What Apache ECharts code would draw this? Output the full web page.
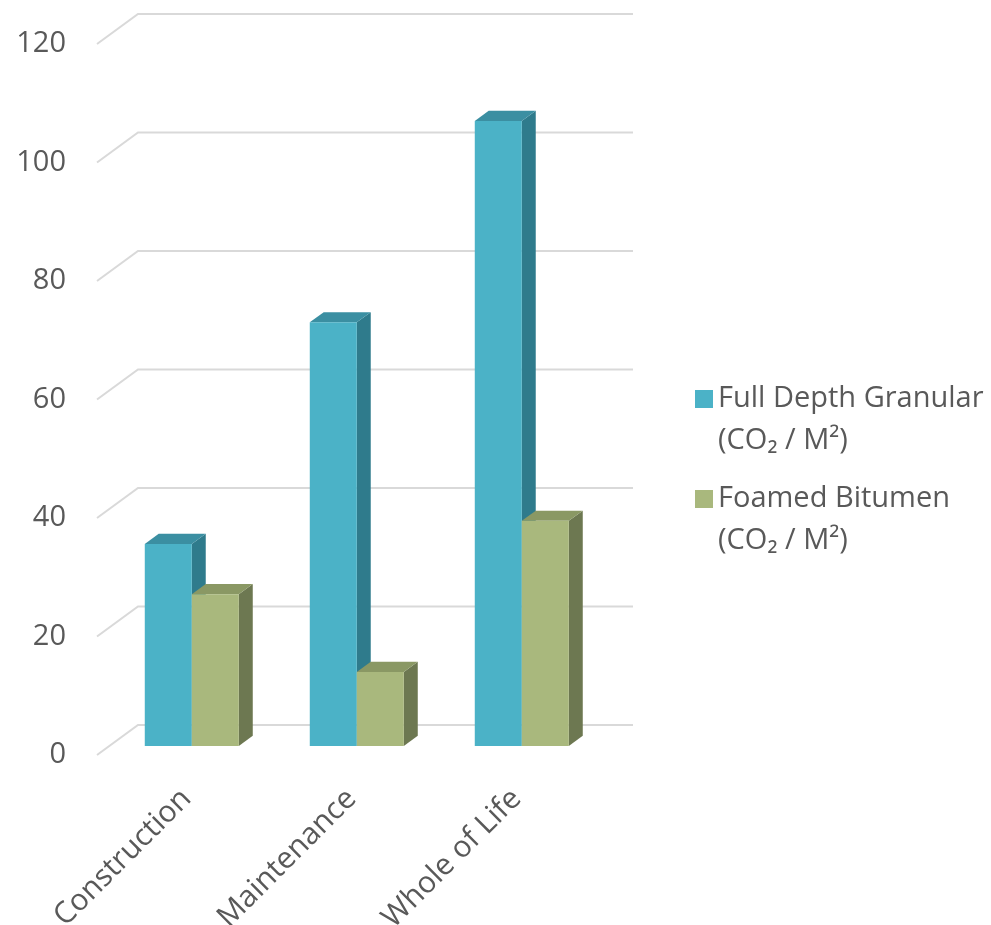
<!DOCTYPE html>
<html>
<head>
<meta charset="utf-8">
<script src="https://cdn.jsdelivr.net/npm/echarts@6/dist/echarts.min.js"></script>
<style>
  html, body { margin: 0; padding: 0; background: #ffffff; }
  #chart { width: 991px; height: 925px; }
</style>
</head>
<body>
<div id="chart"></div>
<script>
// Carbon per square metre for two pavement options
const categories = ['Construction', 'Maintenance', 'Whole of Life'];
const seriesNames = ['Full Depth Granular\n(CO₂ / M²)', 'Foamed Bitumen\n(CO₂ / M²)'];
const fullDepthGranular = [34.1, 71.5, 105.5];
const foamedBitumen = [25.6, 12.5, 38.0];
const yMin = 0, yMax = 120, yStep = 20;

// Oblique projection of the 3D box: depth runs up and to the right
const DEPTH_X = 41, DEPTH_Y = -30;
const BAR_FRONT = 0.3, BAR_BACK = 0.64;   // fraction of depth
const BAR_FRAC = 0.285;                   // bar width / category band

const palettes = [
  { front: '#4BB2C7', side: '#2F7B8C', top: '#3B8FA2' },
  { front: '#A9B87D', side: '#6D7851', top: '#8A9864' }
];

const gridValues = [];
for (let v = yMin; v <= yMax; v += yStep) gridValues.push([0, v]);

function gridRender(params, api) {
  const y = api.coord([0, api.value(1)])[1];
  const left = params.coordSys.x;
  const right = left + params.coordSys.width;
  return {
    type: 'polyline',
    shape: { points: [[left, y], [left + DEPTH_X, y + DEPTH_Y], [right + DEPTH_X, y + DEPTH_Y]] },
    style: { stroke: '#D9D9D9', lineWidth: 2, fill: null }
  };
}

function prismRender(seriesIdx) {
  const pal = palettes[seriesIdx];
  return function (params, api) {
    const cat = api.value(0);
    const base = api.coord([cat, 0]);
    const top = api.coord([cat, api.value(1)]);
    const band = api.size([1, 0])[0];
    const bw = band * BAR_FRAC;
    const fx = DEPTH_X * BAR_FRONT, fy = DEPTH_Y * BAR_FRONT;
    const dx = DEPTH_X * (BAR_BACK - BAR_FRONT), dy = DEPTH_Y * (BAR_BACK - BAR_FRONT);
    const x0 = base[0] + (seriesIdx === 0 ? -bw : 0) + fx;
    const x1 = x0 + bw;
    const yt = top[1] + fy, yb = base[1] + fy;
    return {
      type: 'group',
      children: [
        { type: 'polygon', shape: { points: [[x1, yt], [x1 + dx, yt + dy], [x1 + dx, yb + dy], [x1, yb]] },
          style: { fill: pal.side } },
        { type: 'polygon', shape: { points: [[x0, yt], [x1, yt], [x1 + dx, yt + dy], [x0 + dx, yt + dy]] },
          style: { fill: pal.top } },
        { type: 'rect', shape: { x: x0, y: yt, width: bw, height: yb - yt },
          style: { fill: pal.front } }
      ]
    };
  };
}

const fontFamily = '"Open Sans", sans-serif';
const textColor = '#595959';

const chart = echarts.init(document.getElementById('chart'), null, { renderer: 'canvas' });
chart.setOption({
  animation: false,
  backgroundColor: '#ffffff',
  grid: { left: 97, right: 399, top: 44, bottom: 170, containLabel: false, outerBoundsMode: 'none' },
  xAxis: {
    type: 'category',
    data: categories,
    axisLine: { show: false },
    axisTick: { show: false },
    axisLabel: {
      rotate: 45,
      interval: 0,
      margin: 46,
      fontSize: 30,
      fontFamily: fontFamily,
      color: textColor,
      padding: [0, -10, 0, 0]
    }
  },
  yAxis: {
    type: 'value',
    min: yMin, max: yMax, interval: yStep,
    axisLine: { show: false },
    axisTick: { show: false },
    splitLine: { show: false },
    axisLabel: { margin: 31, fontSize: 29, fontFamily: fontFamily, color: textColor }
  },
  legend: {
    orient: 'vertical',
    left: 690,
    top: 331,
    icon: 'rect',
    itemWidth: 18,
    itemHeight: 18,
    itemGap: -26,
    selectedMode: false,
    // leading blank line keeps the first text line level with the swatch
    formatter: name => '\n' + name,
    textStyle: {
      fontSize: 29,
      fontFamily: fontFamily,
      color: textColor,
      lineHeight: 42
    },
    data: seriesNames
  },
  series: [
    {
      type: 'custom', name: 'grid', silent: true, z: 1,
      renderItem: gridRender,
      encode: { x: 0, y: 1 },
      data: gridValues
    },
    {
      type: 'custom', name: seriesNames[0], z: 2,
      itemStyle: { color: palettes[0].front },
      renderItem: prismRender(0),
      encode: { x: 0, y: 1 },
      data: fullDepthGranular.map((v, i) => [i, v])
    },
    {
      type: 'custom', name: seriesNames[1], z: 2,
      itemStyle: { color: palettes[1].front },
      renderItem: prismRender(1),
      encode: { x: 0, y: 1 },
      data: foamedBitumen.map((v, i) => [i, v])
    }
  ]
});
</script>
</body>
</html>
